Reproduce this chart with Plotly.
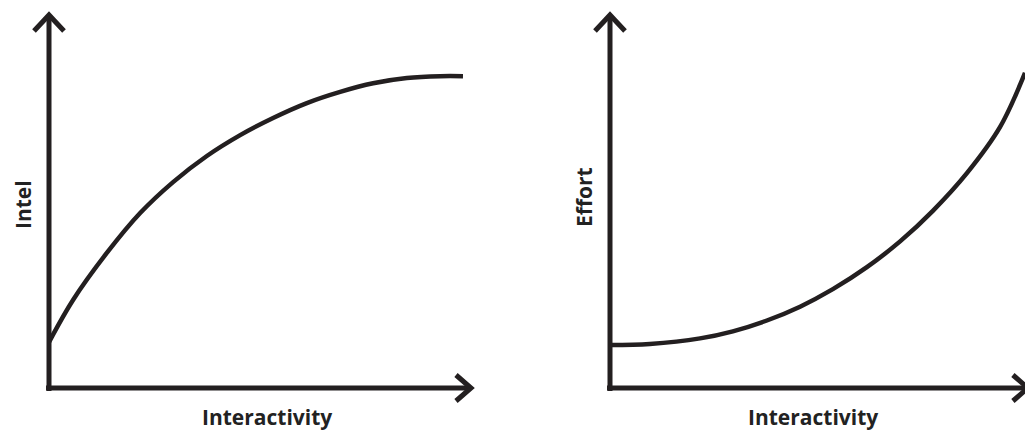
import plotly.graph_objects as go

# ---- data ----
intel_x = [0.0, 0.57, 1.37, 2.16, 2.94, 3.74, 4.53, 5.31, 6.11, 6.90, 7.68, 8.48, 9.27, 9.81]
intel_y = [1.23, 2.36, 3.62, 4.69, 5.52, 6.22, 6.78, 7.24, 7.64, 7.94, 8.17, 8.31, 8.36, 8.36]

effort_x = [0.0, 0.96, 2.17, 2.96, 3.78, 4.58, 5.37, 6.19, 6.99, 7.78, 8.60, 9.40, 10.0]
effort_y = [1.15, 1.18, 1.33, 1.52, 1.81, 2.18, 2.65, 3.24, 3.93, 4.75, 5.76, 7.00, 8.45]

x_title = "Interactivity"
y_titles = ["Intel", "Effort"]

W, H = 1025, 432
INK = "#231f20"
LW = 5

fig = go.Figure()
fig.add_trace(go.Scatter(x=intel_x, y=intel_y, mode="lines", line=dict(color=INK, width=4.5, shape="spline", smoothing=1.0),
                         xaxis="x", yaxis="y", cliponaxis=False, showlegend=False, hoverinfo="skip"))
fig.add_trace(go.Scatter(x=effort_x, y=effort_y, mode="lines", line=dict(color=INK, width=4.5, shape="spline", smoothing=1.0),
                         xaxis="x2", yaxis="y2", cliponaxis=False, showlegend=False, hoverinfo="skip"))

ydom = [1 - 388 / H, 1 - 15 / H]
axis_common = dict(range=[0, 10], showgrid=False, zeroline=False, showticklabels=False, ticks="",
                   showline=False, fixedrange=True)
fig.update_layout(
    width=W, height=H,
    margin=dict(l=0, r=0, t=0, b=0),
    paper_bgcolor="white", plot_bgcolor="white",
    xaxis=dict(domain=[49 / W, 471 / W], anchor="y", **axis_common),
    yaxis=dict(domain=ydom, anchor="x", **axis_common),
    xaxis2=dict(domain=[610 / W, 1025 / W], anchor="y2", **axis_common),
    yaxis2=dict(domain=ydom, anchor="x2", **axis_common),
)

shapes = []
panels = [("x domain", "y domain", 422, 1.0), ("x2 domain", "y2 domain", 415, 1.007)]
for xr, yr, wpx, xtip in panels:
    hpx = 373
    ax = 15 / wpx
    ay = 16 / hpx
    shapes.append(dict(type="line", xref=xr, yref=yr, x0=0, x1=0, y0=-3 / hpx, y1=1,
                       line=dict(color=INK, width=LW)))
    shapes.append(dict(type="path", xref=xr, yref=yr,
                       path=f"M {-ax} {1 - ay} L 0 1 L {ax} {1 - ay}",
                       line=dict(color=INK, width=LW)))
    bx = 15 / wpx
    by = 13 / hpx
    shapes.append(dict(type="line", xref=xr, yref=yr, x0=-3 / wpx, x1=xtip, y0=0, y1=0,
                       line=dict(color=INK, width=LW)))
    shapes.append(dict(type="path", xref=xr, yref=yr,
                       path=f"M {xtip - bx} {by} L {xtip} 0 L {xtip - bx} {-by}",
                       line=dict(color=INK, width=LW)))
fig.update_layout(shapes=shapes)

font = dict(family="Open Sans", size=21, color="#222222")
ann = [
    dict(text=f"<b>{y_titles[0]}</b>", x=23 / W, y=1 - 205 / H, textangle=-90),
    dict(text=f"<b>{y_titles[1]}</b>", x=584 / W, y=1 - 197 / H, textangle=-90),
    dict(text=f"<b>{x_title}</b>", x=267 / W, y=1 - 417 / H),
    dict(text=f"<b>{x_title}</b>", x=813 / W, y=1 - 417 / H),
]
for a in ann:
    fig.add_annotation(xref="paper", yref="paper", showarrow=False, xanchor="center", yanchor="middle",
                       font=font, **a)

fig.write_html("out.html", config={"displayModeBar": False},
               post_script="document.body.style.margin='0';document.body.style.overflow='hidden';")
